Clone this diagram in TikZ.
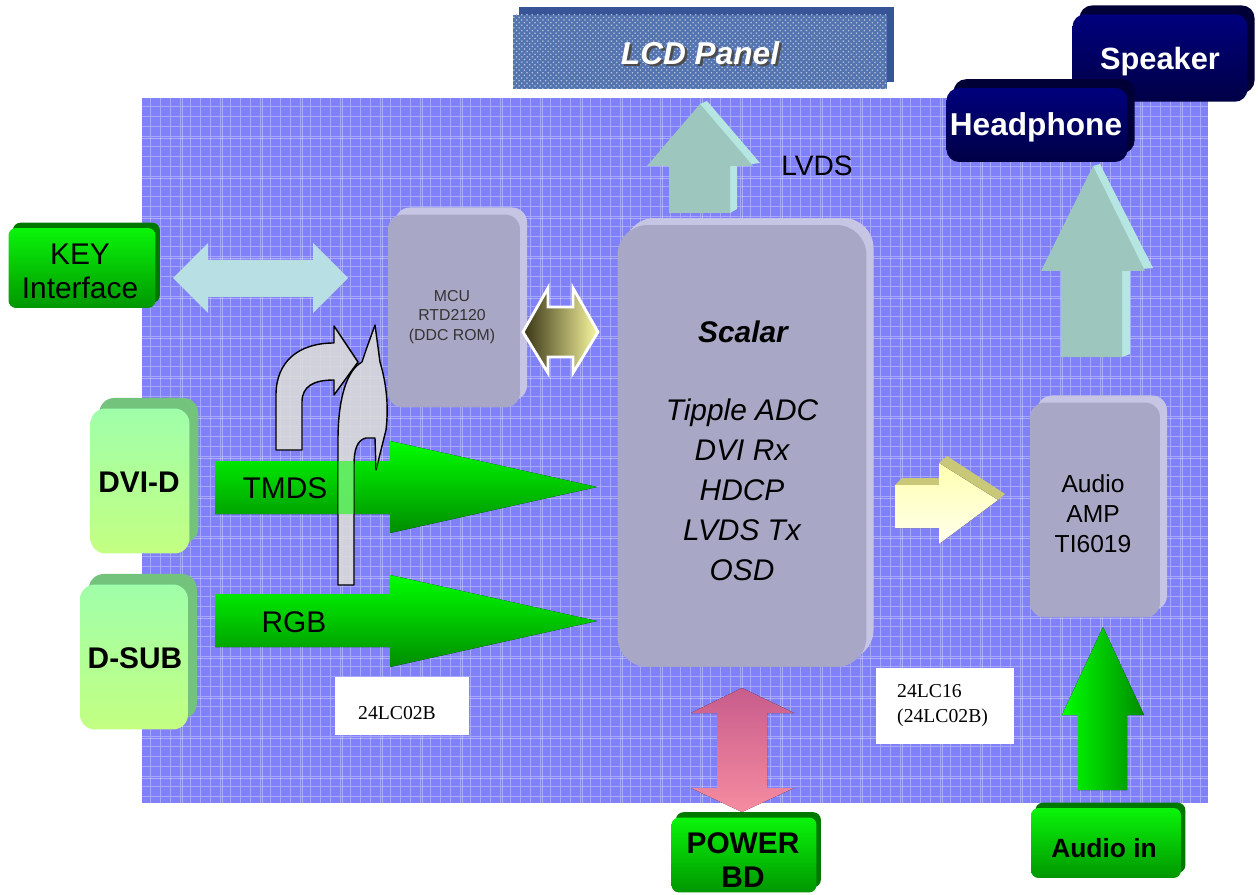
\documentclass[tikz,border=0pt]{standalone}
\usepackage{fontspec}
\setmainfont{Liberation Sans}
\newfontfamily\tnr{Liberation Serif}
\usetikzlibrary{shadows,patterns}
\definecolor{panelblue}{RGB}{128,128,248}
\definecolor{gridline}{RGB}{168,168,255}
\definecolor{lcdblue}{RGB}{84,116,176}
\definecolor{lcdtop}{RGB}{55,85,150}
\definecolor{navytop}{RGB}{0,0,125}
\definecolor{navybot}{RGB}{0,0,70}
\definecolor{navyside}{RGB}{0,0,55}
\definecolor{chipgray}{RGB}{168,168,198}
\definecolor{chipside}{RGB}{198,198,228}
\definecolor{keygreen}{RGB}{10,245,10}
\definecolor{keygreendark}{RGB}{0,150,0}
\definecolor{keyside}{RGB}{0,120,0}
\definecolor{palegreentop}{RGB}{160,255,170}
\definecolor{palegreenbot}{RGB}{195,255,130}
\definecolor{palegreenside}{RGB}{115,195,125}
\definecolor{cyanarrow}{RGB}{184,224,228}
\definecolor{tealarrow}{RGB}{156,198,190}
\definecolor{tealside}{RGB}{182,230,226}
\definecolor{olivedark}{RGB}{55,50,20}
\definecolor{paleyellow}{RGB}{250,250,160}
\definecolor{yellowfront}{RGB}{255,255,175}
\definecolor{yellowlight}{RGB}{255,255,238}
\definecolor{yellowside}{RGB}{200,200,120}
\definecolor{pinktop}{RGB}{200,92,140}
\definecolor{pinkbot}{RGB}{245,140,160}
\definecolor{brightgreen}{RGB}{0,255,0}
\definecolor{deepgreen}{RGB}{0,140,0}
\definecolor{curvefill}{RGB}{218,218,218}
\tikzset{
  chip/.style={fill=chipgray, draw=none, inner sep=0pt,
    general shadow={fill=chipside, shadow xshift=4pt, shadow yshift=4pt}},
  greenbox/.style={top color=keygreen, bottom color=keygreendark, draw=none,
    rounded corners=0.15cm, inner sep=0pt,
    general shadow={fill=keyside, shadow xshift=2.5pt, shadow yshift=3pt}},
  palebox/.style={top color=palegreentop, bottom color=palegreenbot, draw=none,
    rounded corners=0.3cm, inner sep=0pt,
    general shadow={fill=palegreenside, shadow xshift=5pt, shadow yshift=6pt}},
  navybox/.style={top color=navytop, bottom color=navybot, draw=none,
    rounded corners=0.25cm, inner sep=0pt,
    general shadow={fill=navyside, shadow xshift=4pt, shadow yshift=5pt}},
  labelbox/.style={fill=white, draw=none, inner sep=0pt},
  bigtxt/.style={font=\fontsize{17}{19.3}\selectfont\bfseries, align=center},
  whitetxt/.style={font=\fontsize{17.5}{20}\selectfont\bfseries, text=white},
  eeptxt/.style={font=\tnr\fontsize{11.2}{14.2}\selectfont, align=left, anchor=west},
  curvearrow/.style={fill=curvefill, fill opacity=0.9, draw=black, line width=0.8pt, line join=round},
}
\begin{document}
\begin{tikzpicture}[x=0.02cm,y=-0.02cm]
\useasboundingbox (0,0) rectangle (1258,895);
\fill[white] (0,0) rectangle (1258,895);
% main board
\fill[panelblue] (142,98) rectangle (1208,803);
\foreach \x in {150,160,...,1200} \draw[gridline, line width=0.35pt] (\x,98) -- (\x,803);
\foreach \y in {106,116,...,796} \draw[gridline, line width=0.35pt] (142,\y) -- (1208,\y);
\foreach \x in {182,222,...,1200} \draw[white, opacity=0.35, line width=0.5pt] (\x,98) -- (\x,803);
\foreach \y in {138,178,...,796} \draw[white, opacity=0.35, line width=0.5pt] (142,\y) -- (1208,\y);

% LCD panel
\node[fill=lcdblue, draw=none, inner sep=0pt, minimum width=7.5cm, minimum height=1.5cm,
  general shadow={fill=lcdtop, shadow xshift=3.5pt, shadow yshift=4pt},
  postaction={pattern=crosshatch dots, pattern color=white!55!lcdblue}] (lcd) at (700,52) {};
\node[font=\fontsize{18}{20}\selectfont\bfseries\itshape, text=black!70] (lcdshade) at (702.5,55.5) {LCD Panel};
\node[font=\fontsize{18}{20}\selectfont\bfseries\itshape, text=white] (lcdtext) at (700,53) {LCD Panel};

% Speaker / Headphone
\node[navybox, minimum width=3.5cm, minimum height=1.75cm] (speaker) at (1160,58) {};
\node[whitetxt] (speakertext) at (1160,62) {Speaker};
\node[navybox, minimum width=3.62cm, minimum height=1.48cm] (headphone) at (1037,125) {};
\node[whitetxt, font=\fontsize{18}{20}\selectfont\bfseries] (headphonetext) at (1036,127) {Headphone};

% KEY Interface
\node[greenbox, minimum width=2.94cm, minimum height=1.6cm] (key) at (82,268) {};
\node[font=\fontsize{17}{19.3}\selectfont, align=center] (keytext) at (80,271) {KEY\\Interface};

% MCU
\node[chip, rounded corners=0.3cm, minimum width=2.64cm, minimum height=3.86cm] (mcu) at (454,311) {};
\node[font=\fontsize{9}{11.3}\selectfont, text=black!80, align=center] (mcutext) at (452,317) {MCU\\RTD2120\\(DDC ROM)};

% Scalar
\node[chip, rounded corners=0.6cm, minimum width=4.98cm, minimum height=8.84cm] (scalar) at (742,446) {};
\node[font=\fontsize{17}{22.7}\selectfont\bfseries\itshape] (scalartitle) at (743,332) {Scalar};
\node[font=\fontsize{17}{22.7}\selectfont\itshape, align=center] (scalarlist) at (742,490) {Tipple ADC\\DVI Rx\\HDCP\\LVDS Tx\\OSD};

% Audio AMP
\node[chip, rounded corners=0.3cm, minimum width=2.6cm, minimum height=4.3cm] (amp) at (1095,510) {};
\node[font=\fontsize{14}{17}\selectfont, align=center] (amptext) at (1093,514) {Audio\\AMP\\TI6019};

% DVI-D / D-SUB
\node[palebox, minimum width=1.98cm, minimum height=2.9cm] (dvi) at (140,481) {};
\node[bigtxt] (dvitext) at (139,482) {DVI-D};
\node[palebox, minimum width=2.16cm, minimum height=2.9cm] (dsub) at (134,657) {};
\node[bigtxt] (dsubtext) at (135,658) {D-SUB};

% POWER BD / Audio in
\node[greenbox, minimum width=2.9cm, minimum height=1.5cm] (power) at (744,855) {};
\node[bigtxt] (powertext) at (743,860) {POWER\\BD};
\node[greenbox, minimum width=3.0cm, minimum height=1.4cm] (audioin) at (1106,843) {};
\node[font=\fontsize{15}{18}\selectfont\bfseries] (audiointext) at (1104,848) {Audio in};

% EEPROM labels
\node[labelbox, minimum width=2.7cm, minimum height=1.16cm] (eep1) at (402,706) {};
\node[eeptxt] (eep1text) at (352,713) {24LC02B};
\node[labelbox, minimum width=2.76cm, minimum height=1.54cm] (eep2) at (945,706) {};
\node[eeptxt] (eep2text) at (891,706) {24LC16\\(24LC02B)};

% KEY <-> MCU double arrow
\fill[cyanarrow] (173,278) -- (208,243) -- (208,260) -- (313,260) -- (313,243) -- (348,278)
  -- (313,313) -- (313,297) -- (208,297) -- (208,313) -- cycle;

% MCU <-> Scalar gold double arrow
\draw[left color=olivedark, right color=paleyellow, draw=white, line width=1.6pt, line join=miter]
  (523,332) -- (548,288) -- (548,307) -- (573,307) -- (573,288) -- (598,332)
  -- (573,373) -- (573,357) -- (548,357) -- (548,373) -- cycle;

% TMDS and RGB arrows
\fill[top color=brightgreen, bottom color=deepgreen] (215,461) -- (390,461) -- (390,441) -- (597,487)
  -- (390,533) -- (390,514) -- (215,514) -- cycle;
\fill[top color=brightgreen, bottom color=deepgreen] (215,594) -- (390,594) -- (390,575) -- (597,621)
  -- (390,667) -- (390,647) -- (215,647) -- cycle;
\node[font=\fontsize{17}{20}\selectfont] (tmds) at (285,488) {TMDS};
\node[font=\fontsize{17}{20}\selectfont] (rgb) at (294,622) {RGB};

% curved DDC arrows
\draw[curvearrow] (276,450) -- (276,395) .. controls (276,362) and (298,343) .. (334,343)
  -- (334,326) -- (358,362) -- (334,395) -- (334,380) .. controls (314,380) and (302,386) .. (302,402)
  -- (302,450) -- cycle;
\draw[curvearrow] (338,585) -- (338,440) .. controls (338,398) and (347,370) .. (362,362)
  -- (366,350) -- (375,325) -- (380,362) .. controls (386,382) and (389,405) .. (386,430)
  -- (376,470) -- (375,438) -- (366,438) .. controls (357,440) and (354,450) .. (354,465)
  -- (354,585) -- cycle;
% green tint where the DDC arrow crosses the TMDS arrow
\begin{scope}
  \clip (215,461) -- (390,461) -- (390,441) -- (597,487) -- (390,533) -- (390,514) -- (215,514) -- cycle;
  \fill[brightgreen, opacity=0.5] (338,585) -- (338,440) .. controls (338,398) and (347,370) .. (362,362)
    -- (366,350) -- (375,325) -- (380,362) .. controls (386,382) and (389,405) .. (386,430)
    -- (376,470) -- (375,438) -- (366,438) .. controls (357,440) and (354,450) .. (354,465)
    -- (354,585) -- cycle;
\end{scope}

% LVDS up arrow
\fill[tealside] (707,101) -- (760,163) -- (737,166) -- (737,209) -- (730,213) -- (730,166) -- (700,104) -- cycle;
\fill[tealarrow] (700,104) -- (753,166) -- (730,166) -- (730,213) -- (669,213) -- (669,166) -- (647,166) -- cycle;
\node[font=\fontsize{16}{19}\selectfont] (lvds) at (817,166) {LVDS};

% Audio -> Headphone up arrow
\fill[tealside] (1100,164) -- (1153,268) -- (1130,270) -- (1130,354) -- (1122,357) -- (1122,271) -- (1093,166) -- cycle;
\fill[tealarrow] (1093,166) -- (1145,271) -- (1122,271) -- (1122,357) -- (1061,357) -- (1061,271) -- (1041,271) -- cycle;

% Scalar -> Audio AMP yellow arrow
\fill[yellowside] (895,485) -- (902,478) -- (939,478) -- (939,463) -- (947,456) -- (1005,494) -- (998,500) -- cycle;
\fill[top color=yellowfront, bottom color=yellowlight] (895,485) -- (939,485) -- (939,463) -- (998,500)
  -- (939,544) -- (939,528) -- (895,528) -- cycle;

% POWER BD double arrow
\fill[top color=pinktop, bottom color=pinkbot] (742,688) -- (794,713) -- (767,713) -- (767,788) -- (794,788)
  -- (742,812) -- (691,788) -- (717,788) -- (717,713) -- (691,713) -- cycle;

% Audio in up arrow
\fill[left color=brightgreen, right color=deepgreen] (1103,627) -- (1144,715) -- (1127,715) -- (1127,790)
  -- (1078,790) -- (1078,715) -- (1062,715) -- cycle;
\end{tikzpicture}
\end{document}
